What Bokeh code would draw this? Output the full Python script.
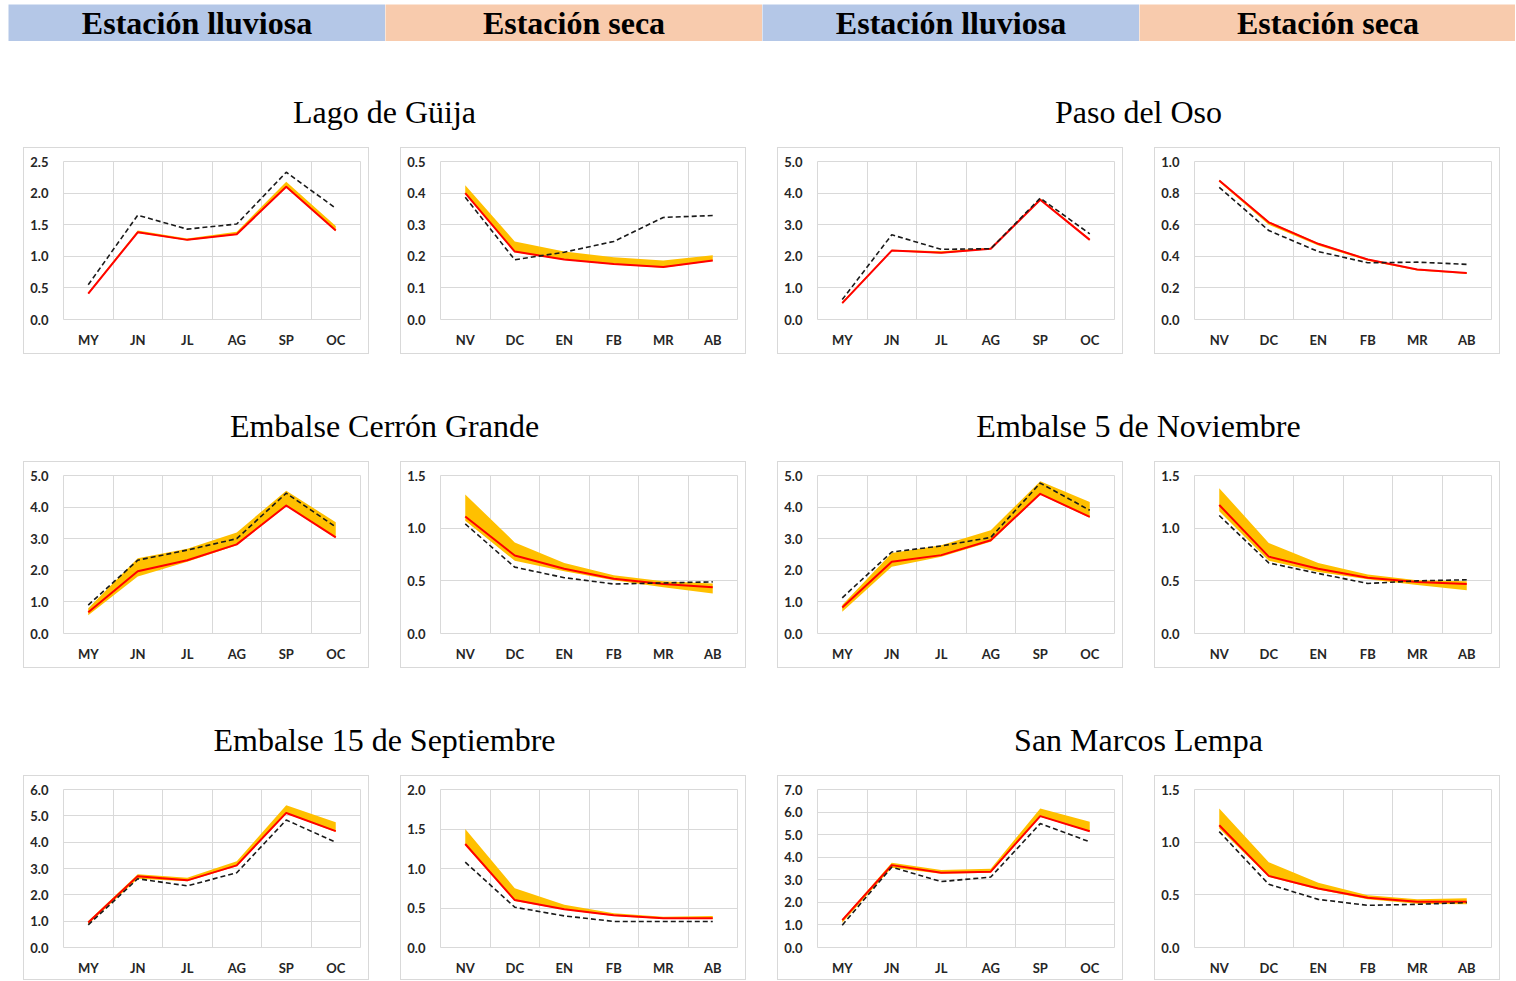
from bokeh.plotting import figure
from bokeh.models import Range1d, FixedTicker, NumeralTickFormatter, Spacer
from bokeh.layouts import row, column
from bokeh.core.properties import value
from bokeh.embed import file_html
from bokeh.resources import INLINE

# ---------------- data ----------------
headers = ["Estación lluviosa", "Estación seca", "Estación lluviosa", "Estación seca"]
stations = ["Lago de Güija", "Paso del Oso",
            "Embalse Cerrón Grande", "Embalse 5 de Noviembre",
            "Embalse 15 de Septiembre", "San Marcos Lempa"]
wet_months = ["MY", "JN", "JL", "AG", "SP", "OC"]
dry_months = ["NV", "DC", "EN", "FB", "MR", "AB"]

# Lago de Güija
guija_wet_red = [0.41, 1.38, 1.26, 1.35, 2.10, 1.41]
guija_wet_lo = [0.40, 1.37, 1.25, 1.34, 2.09, 1.40]
guija_wet_hi = [0.43, 1.41, 1.28, 1.39, 2.18, 1.48]
guija_wet_dash = [0.55, 1.65, 1.43, 1.51, 2.33, 1.76]
guija_dry_red = [0.400, 0.215, 0.190, 0.176, 0.166, 0.187]
guija_dry_lo = [0.398, 0.213, 0.188, 0.174, 0.164, 0.185]
guija_dry_hi = [0.425, 0.247, 0.215, 0.197, 0.187, 0.203]
guija_dry_dash = [0.387, 0.189, 0.213, 0.247, 0.323, 0.329]

# Paso del Oso
oso_wet_red = [0.52, 2.18, 2.11, 2.24, 3.79, 2.52]
oso_wet_lo = [0.50, 2.16, 2.09, 2.22, 3.77, 2.50]
oso_wet_hi = [0.56, 2.21, 2.16, 2.27, 3.83, 2.56]
oso_wet_dash = [0.63, 2.68, 2.22, 2.24, 3.84, 2.71]
oso_dry_red = [0.880, 0.615, 0.479, 0.380, 0.317, 0.294]
oso_dry_lo = [0.870, 0.600, 0.468, 0.372, 0.310, 0.288]
oso_dry_hi = [0.885, 0.620, 0.484, 0.385, 0.320, 0.297]
oso_dry_dash = [0.836, 0.563, 0.430, 0.359, 0.363, 0.349]

# Embalse Cerrón Grande
cerron_wet_red = [0.67, 1.97, 2.32, 2.82, 4.05, 3.04]
cerron_wet_lo = [0.58, 1.80, 2.27, 2.79, 4.03, 3.02]
cerron_wet_hi = [0.80, 2.38, 2.68, 3.20, 4.52, 3.52]
cerron_wet_dash = [0.90, 2.32, 2.64, 3.00, 4.44, 3.37]
cerron_dry_red = [1.11, 0.74, 0.615, 0.52, 0.47, 0.44]
cerron_dry_lo = [1.07, 0.69, 0.59, 0.506, 0.44, 0.38]
cerron_dry_hi = [1.32, 0.865, 0.67, 0.553, 0.497, 0.475]
cerron_dry_dash = [1.04, 0.63, 0.53, 0.47, 0.48, 0.49]

# Embalse 5 de Noviembre
nov_wet_red = [0.82, 2.27, 2.48, 2.95, 4.42, 3.69]
nov_wet_lo = [0.69, 2.11, 2.43, 2.90, 4.40, 3.66]
nov_wet_hi = [0.90, 2.55, 2.79, 3.27, 4.82, 4.16]
nov_wet_dash = [1.13, 2.58, 2.77, 3.04, 4.76, 3.90]
nov_dry_red = [1.22, 0.73, 0.615, 0.53, 0.49, 0.47]
nov_dry_lo = [1.16, 0.69, 0.584, 0.516, 0.46, 0.41]
nov_dry_hi = [1.38, 0.86, 0.67, 0.56, 0.506, 0.497]
nov_dry_dash = [1.12, 0.67, 0.57, 0.475, 0.50, 0.51]

# Embalse 15 de Septiembre
sept_wet_red = [0.95, 2.71, 2.55, 3.12, 5.11, 4.42]
sept_wet_lo = [0.88, 2.61, 2.52, 3.09, 5.09, 4.39]
sept_wet_hi = [1.01, 2.78, 2.65, 3.28, 5.40, 4.76]
sept_wet_dash = [0.86, 2.61, 2.34, 2.84, 4.84, 4.00]
sept_dry_red = [1.31, 0.60, 0.484, 0.408, 0.37, 0.37]
sept_dry_lo = [1.29, 0.59, 0.478, 0.400, 0.36, 0.36]
sept_dry_hi = [1.50, 0.75, 0.54, 0.434, 0.39, 0.40]
sept_dry_dash = [1.08, 0.51, 0.40, 0.33, 0.33, 0.33]

# San Marcos Lempa
lempa_wet_red = [1.21, 3.65, 3.31, 3.36, 5.82, 5.15]
lempa_wet_lo = [1.10, 3.53, 3.27, 3.31, 5.79, 5.13]
lempa_wet_hi = [1.25, 3.76, 3.43, 3.49, 6.16, 5.57]
lempa_wet_dash = [0.99, 3.56, 2.92, 3.12, 5.49, 4.68]
lempa_dry_red = [1.16, 0.68, 0.56, 0.473, 0.435, 0.435]
lempa_dry_lo = [1.13, 0.67, 0.55, 0.457, 0.416, 0.41]
lempa_dry_hi = [1.32, 0.81, 0.615, 0.495, 0.457, 0.467]
lempa_dry_dash = [1.10, 0.60, 0.457, 0.40, 0.41, 0.426]

# ---------------- styling ----------------
GRID = "#d9d9d9"
LABEL = "#262626"
HEAD_COLORS = ["#b4c7e7", "#f8cbad", "#b4c7e7", "#f8cbad"]
HEAD_WIDTHS = [377, 377, 377, 376]
PANEL_W = 346


def panel(months, red, lo, hi, dash, ymax, step, height, bottom):
    xs = list(range(len(months)))
    p = figure(width=PANEL_W, height=height,
               x_range=Range1d(-0.5, len(months) - 0.5), y_range=Range1d(0, ymax),
               output_backend="svg", toolbar_location=None,
               min_border_left=40, min_border_right=9,
               min_border_top=14, min_border_bottom=bottom)
    p.styles = {"box-shadow": "inset 0 0 0 1px #d9d9d9"}
    p.border_fill_alpha = 0.0
    p.outline_line_color = GRID
    p.varea(x=xs, y1=lo, y2=hi, fill_color="#ffc000", fill_alpha=1.0)
    p.line(xs, red, line_color="#ff0000", line_width=2, line_join="round")
    p.line(xs, dash, line_color="#1a1a1a", line_width=1.6, line_dash="5 3")

    n = int(round(ymax / step))
    yt = [round(i * step, 3) for i in range(n + 1)]
    p.yaxis.ticker = FixedTicker(ticks=yt)
    p.yaxis.formatter = NumeralTickFormatter(format="0.0")
    p.xaxis.ticker = FixedTicker(ticks=xs)
    p.xaxis.major_label_overrides = {i: m for i, m in enumerate(months)}
    p.xgrid.ticker = FixedTicker(ticks=[i + 0.5 for i in xs[:-1]])
    for ax in (p.xaxis[0], p.yaxis[0]):
        ax.axis_line_color = None
        ax.major_tick_line_color = None
        ax.minor_tick_line_color = None
        ax.major_tick_out = 0
        ax.major_tick_in = 0
        ax.minor_tick_out = 0
        ax.minor_tick_in = 0
        ax.major_label_text_font = "Lato"
        ax.major_label_text_font_style = "bold"
        ax.major_label_text_font_size = "13px"
        ax.major_label_text_color = LABEL
    p.yaxis.major_label_standoff = 15
    p.xaxis.major_label_standoff = 12
    p.grid.grid_line_color = GRID
    p.grid.grid_line_width = 1
    return p


def header(text, color, w):
    h = 37
    p = figure(width=w, height=h, x_range=Range1d(0, w), y_range=Range1d(0, h),
               output_backend="svg", toolbar_location=None,
               x_axis_location=None, y_axis_location=None, min_border=0)
    p.grid.visible = False
    p.outline_line_color = None
    p.background_fill_color = color
    p.border_fill_color = color
    p.text(x=[188.5], y=[19], text=[text], text_align="center", text_baseline="middle",
           text_font=value("Liberation Serif"), text_font_style="bold",
           text_font_size=value("32px"), text_color="#000000")
    return p


def title(text, w, h):
    p = figure(width=w, height=h, x_range=Range1d(0, w), y_range=Range1d(0, h),
               output_backend="svg", toolbar_location=None,
               x_axis_location=None, y_axis_location=None, min_border=0)
    p.grid.visible = False
    p.outline_line_color = None
    p.background_fill_alpha = 0.0
    p.border_fill_alpha = 0.0
    p.text(x=[384], y=[36], text=[text], text_align="center", text_baseline="middle",
           text_font=value("Liberation Serif"), text_font_size=value("32px"),
           text_color="#000000")
    return p


header_row = row(Spacer(width=8, height=37),
                 *[header(t, c, w) for t, c, w in zip(headers, HEAD_COLORS, HEAD_WIDTHS)])

panel_data = [
    (guija_wet_red, guija_wet_lo, guija_wet_hi, guija_wet_dash, 2.5, 0.5,
     guija_dry_red, guija_dry_lo, guija_dry_hi, guija_dry_dash, 0.5, 0.1,
     oso_wet_red, oso_wet_lo, oso_wet_hi, oso_wet_dash, 5.0, 1.0,
     oso_dry_red, oso_dry_lo, oso_dry_hi, oso_dry_dash, 1.0, 0.2),
    (cerron_wet_red, cerron_wet_lo, cerron_wet_hi, cerron_wet_dash, 5.0, 1.0,
     cerron_dry_red, cerron_dry_lo, cerron_dry_hi, cerron_dry_dash, 1.5, 0.5,
     nov_wet_red, nov_wet_lo, nov_wet_hi, nov_wet_dash, 5.0, 1.0,
     nov_dry_red, nov_dry_lo, nov_dry_hi, nov_dry_dash, 1.5, 0.5),
    (sept_wet_red, sept_wet_lo, sept_wet_hi, sept_wet_dash, 6.0, 1.0,
     sept_dry_red, sept_dry_lo, sept_dry_hi, sept_dry_dash, 2.0, 0.5,
     lempa_wet_red, lempa_wet_lo, lempa_wet_hi, lempa_wet_dash, 7.0, 1.0,
     lempa_dry_red, lempa_dry_lo, lempa_dry_hi, lempa_dry_dash, 1.5, 0.5),
]

title_heights = [106, 107, 107]
panel_heights = [207, 207, 205]
panel_bottoms = [35, 35, 33]

items = [Spacer(width=1515, height=4), header_row]
for r, d in enumerate(panel_data):
    th = title_heights[r]
    items.append(row(title(stations[2 * r], 754, th), title(stations[2 * r + 1], 754, th)))
    h = panel_heights[r]
    b = panel_bottoms[r]
    panels = []
    for k in range(4):
        red, lo, hi, dash, ymax, step = d[6 * k: 6 * k + 6]
        months = wet_months if k % 2 == 0 else dry_months
        panels.append(panel(months, red, lo, hi, dash, ymax, step, h, b))
    items.append(row(Spacer(width=23, height=h), panels[0], Spacer(width=31, height=h),
                     panels[1], Spacer(width=31, height=h), panels[2],
                     Spacer(width=31, height=h), panels[3]))

layout = column(*items)
open("out.html", "w").write(file_html(layout, INLINE))
